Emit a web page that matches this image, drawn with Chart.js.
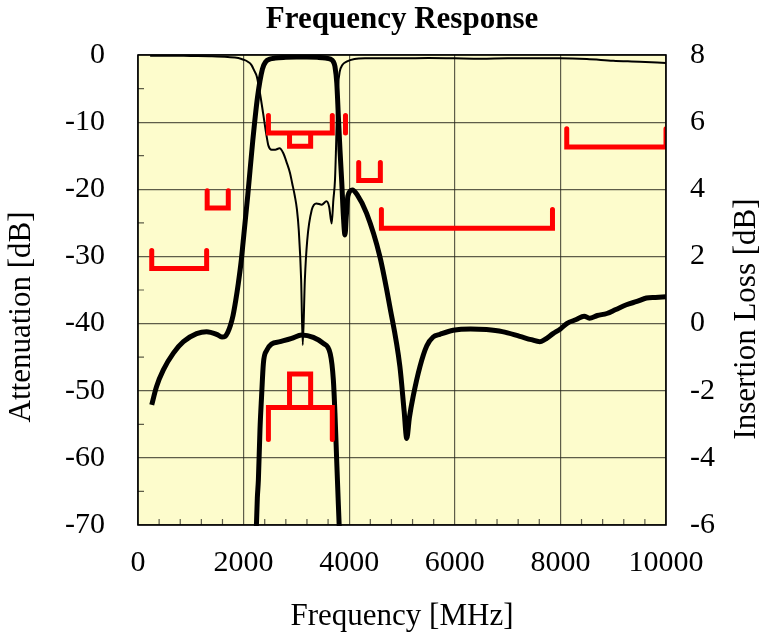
<!DOCTYPE html>
<html>
<head>
<meta charset="utf-8">
<script src="https://cdn.jsdelivr.net/npm/chart.js@4/dist/chart.umd.min.js"></script>
<style>
  html, body { margin: 0; padding: 0; background: #ffffff; }
  canvas { display: block; }
</style>
</head>
<body>
<canvas id="c" width="762" height="635"></canvas>
<script>
// ---------- data ----------
const chartTitle = 'Frequency Response';
const xTitle = 'Frequency [MHz]';
const yLeftTitle = 'Attenuation [dB]';
const yRightTitle = 'Insertion Loss [dB]';

const xTickValues = [0, 2000, 4000, 6000, 8000, 10000];
const attTickValues = [0, -10, -20, -30, -40, -50, -60, -70];
const ilTickValues = [8, 6, 4, 2, 0, -2, -4, -6];

// Attenuation (thick, left axis)
const attFreq = [260, 350, 480, 670, 860, 1110, 1300, 1490, 1590, 1650, 1700, 1750, 1800, 1850, 1900, 1950, 1989, 2080,
  2172, 2263, 2356, 2420, 2500, 2600, 2800, 3000, 3200, 3400, 3550, 3640, 3700, 3730, 3765, 3795, 3825,
  3860, 3890, 3920, 3945, 3975, 4060, 4150, 4330, 4580, 4770, 4960, 5040, 5090, 5140, 5210, 5340, 5470, 5590,
  5720, 5970, 6300, 6600, 6900, 7230, 7450, 7610, 7700, 7860, 8000, 8120, 8300, 8450, 8550, 8700, 8880, 9050,
  9250, 9450, 9630, 9800, 10000];
const attDb = [-52.1, -49.4, -46.9, -44.4, -42.7, -41.5, -41.2, -41.6, -42.0, -41.9, -41.3, -40.3, -38.8, -36.6,
  -34.0, -31.0, -28.0, -20.8, -12.9, -6.3, -2.1, -1.0, -0.6, -0.45, -0.35, -0.3, -0.3, -0.35, -0.45, -0.6, -1.0,
  -1.7, -4.2, -9.2, -14.1, -19.1, -24.0, -26.8, -24.0, -21.0, -20.1, -20.8, -23.6, -30.0, -37.5, -46.4, -53.0,
  -57.1, -54.0, -50.9, -46.4, -43.3, -42.0, -41.6, -41.0, -40.8, -40.9, -41.2, -41.9, -42.4, -42.7, -42.4, -41.5,
  -40.8, -40.0, -39.4, -38.9, -39.2, -38.8, -38.5, -37.9, -37.2, -36.7, -36.2, -36.1, -36.0];

// Return loss (thin, left axis)
const rlFreq = [230, 600, 1000, 1400, 1700, 1900, 2000, 2080, 2150, 2200, 2250, 2310, 2370, 2430, 2470, 2530,
  2600, 2680, 2750, 2820, 2880, 2920, 2970, 3010, 3045, 3090, 3120, 3160, 3205, 3290, 3380, 3480, 3570, 3620,
  3668, 3700, 3731, 3750, 3770, 3790, 3820, 3870, 3950, 4100, 4300, 5000, 5500, 6000, 6500, 7000, 7500, 8000,
  8500, 9000, 9500, 10000];
const rlDb = [-0.1, -0.1, -0.15, -0.2, -0.3, -0.45, -0.7, -1.0, -1.5, -2.3, -3.2, -5.7, -8.7, -11.8, -13.5, -14.1,
  -14.1, -13.9, -14.6, -16.1, -17.6, -19.1, -21.0, -23.0, -26.1, -33.5, -43.2, -33.5, -27.6, -23.1, -22.1, -22.3,
  -21.8, -22.6, -25.1, -21.6, -18.6, -14.0, -8.0, -4.5, -2.5, -1.5, -1.0, -0.6, -0.5, -0.5, -0.45, -0.5, -0.55,
  -0.5, -0.5, -0.5, -0.6, -0.85, -1.0, -1.2];

// Insertion loss (thick, right axis)
const ilFreq = [2235, 2260, 2280, 2310, 2340, 2375, 2440, 2530, 2690, 2910, 3100, 3320, 3510, 3640, 3700, 3730,
  3765, 3795, 3820];
const ilDb = [-6.4, -5.2, -4.66, -3.17, -2.18, -1.18, -0.79, -0.61, -0.54, -0.44, -0.34, -0.41, -0.59, -0.89,
  -1.68, -2.67, -4.16, -5.4, -6.4];

// Specification masks (red); null separates pieces
const maskAttFreq = [260, 260, 1300, 1300, null, 1310, 1310, 1710, 1710, null,
  2470, 2470, 3680, 3680, null, 2870, 2870, 3270, 3270, null, 3930, 3930, null,
  4180, 4180, 4590, 4590, null, 4610, 4610, 7850, 7850, null, 8120, 8120, 10000, 10000];
const maskAttDb = [-29.1, -31.8, -31.8, -29.1, null, -20.2, -22.8, -22.8, -20.2, null,
  -9.0, -11.6, -11.6, -9.0, null, -11.6, -13.6, -13.6, -11.6, null, -9.0, -11.6, null,
  -16.0, -18.7, -18.7, -16.0, null, -23.0, -25.8, -25.8, -23.0, null, -11.0, -13.7, -13.7, -11.0];

const maskIlFreq = [2470, 2470, 3680, 3680, null, 2870, 2870, 3270, 3270];
const maskIlDb = [-3.45, -2.5, -2.5, -3.45, null, -2.5, -1.5, -1.5, -2.5];

// ---------- build ----------
function pts(xs, ys) {
  return xs.map((x, i) => ({ x: x === null ? NaN : x, y: ys[i] }));
}

const SERIF = "'Liberation Serif', 'Times New Roman', serif";
const GRID = 'rgba(40,40,30,0.75)';

const bgPlugin = {
  id: 'bg',
  beforeDraw(chart) {
    const { ctx, chartArea: a } = chart;
    ctx.save();
    ctx.fillStyle = '#FDFCCC';
    ctx.fillRect(a.left, a.top, a.right - a.left, a.bottom - a.top);
    ctx.restore();
  },
  beforeDatasetsDraw(chart) {
    const { ctx, chartArea: a, scales } = chart;
    ctx.save();
    ctx.strokeStyle = GRID;
    ctx.lineWidth = 1.2;
    ctx.beginPath();
    for (let v = 0; v <= 10000; v += 400) {
      if (v % 2000 === 0) continue;
      const px = scales.x.getPixelForValue(v);
      ctx.moveTo(px, a.bottom);
      ctx.lineTo(px, a.bottom - 6);
    }
    for (let v = -65; v < 0; v += 10) {
      const py = scales.y.getPixelForValue(v);
      ctx.moveTo(a.left, py);
      ctx.lineTo(a.left + 6, py);
    }
    ctx.stroke();
    ctx.restore();
  },
  afterDatasetsDraw(chart) {
    const { ctx, chartArea: a } = chart;
    ctx.save();
    ctx.strokeStyle = '#000';
    ctx.lineWidth = 1.6;
    ctx.strokeRect(a.left, a.top, a.right - a.left, a.bottom - a.top);
    ctx.restore();
  },
  afterDraw(chart) {
    const { ctx } = chart;
    ctx.save();
    ctx.fillStyle = '#000';
    ctx.font = '31px ' + SERIF;
    ctx.textAlign = 'center';
    ctx.textBaseline = 'middle';
    ctx.translate(22, 317);
    ctx.rotate(-Math.PI / 2);
    ctx.fillText(yLeftTitle, 0, 0);
    ctx.restore();
    ctx.save();
    ctx.fillStyle = '#000';
    ctx.font = '31px ' + SERIF;
    ctx.textAlign = 'center';
    ctx.textBaseline = 'middle';
    ctx.translate(747, 319);
    ctx.rotate(-Math.PI / 2);
    ctx.fillText(yRightTitle, 0, 0);
    ctx.restore();
  }
};

const lineBase = { pointRadius: 0, fill: false, tension: 0 };

new Chart(document.getElementById('c'), {
  type: 'line',
  data: {
    datasets: [
      Object.assign({}, lineBase, { label: 'Mask', data: pts(maskAttFreq, maskAttDb), yAxisID: 'y',
        borderColor: '#FF0000', borderWidth: 5, borderCapStyle: 'round', borderJoinStyle: 'miter', spanGaps: false }),
      Object.assign({}, lineBase, { label: 'IL mask', data: pts(maskIlFreq, maskIlDb), yAxisID: 'y2',
        borderColor: '#FF0000', borderWidth: 5, borderCapStyle: 'round', borderJoinStyle: 'miter', spanGaps: false }),
      Object.assign({}, lineBase, { label: 'Return loss', data: pts(rlFreq, rlDb), yAxisID: 'y',
        borderColor: '#000', borderWidth: 2, cubicInterpolationMode: 'monotone' }),
      Object.assign({}, lineBase, { label: 'Attenuation', data: pts(attFreq, attDb), yAxisID: 'y',
        borderColor: '#000', borderWidth: 5, cubicInterpolationMode: 'monotone', borderJoinStyle: 'round' }),
      Object.assign({}, lineBase, { label: 'Insertion loss', data: pts(ilFreq, ilDb), yAxisID: 'y2',
        borderColor: '#000', borderWidth: 5, cubicInterpolationMode: 'monotone', borderJoinStyle: 'round', clip: 1 })
    ]
  },
  options: {
    responsive: false,
    animation: false,
    devicePixelRatio: 1,
    layout: { padding: 0 },
    plugins: {
      legend: { display: false },
      tooltip: { enabled: false },
      title: {
        display: true, text: chartTitle, fullSize: false, color: '#000',
        font: { family: SERIF, size: 31, weight: 'bold', lineHeight: 1.2 },
        padding: { top: 1, bottom: 16.8 }
      }
    },
    scales: {
      x: {
        type: 'linear', min: 0, max: 10000,
        afterBuildTicks: s => { s.ticks = xTickValues.map(v => ({ value: v })); },
        ticks: { color: '#000', font: { family: SERIF, size: 30 }, padding: 20, maxRotation: 0, autoSkip: false,
          callback: v => String(v) },
        grid: { color: GRID, lineWidth: 1.2, drawTicks: false },
        border: { display: false },
        title: { display: true, text: xTitle, color: '#000', font: { family: SERIF, size: 31 }, padding: { top: 0, bottom: 0 } },
        afterFit: s => { s.height = 110; }
      },
      y: {
        type: 'linear', position: 'left', min: -70, max: 0,
        afterBuildTicks: s => { s.ticks = attTickValues.slice().reverse().map(v => ({ value: v })); },
        ticks: { color: '#000', font: { family: SERIF, size: 30 }, padding: 33, callback: v => String(v) },
        grid: { color: GRID, lineWidth: 1.2, drawTicks: false },
        border: { display: false },
        afterFit: s => { s.width = 138; }
      },
      y2: {
        type: 'linear', position: 'right', min: -6, max: 8,
        afterBuildTicks: s => { s.ticks = ilTickValues.slice().reverse().map(v => ({ value: v })); },
        ticks: { color: '#000', font: { family: SERIF, size: 30 }, padding: 24, callback: v => String(v) },
        grid: { display: false, drawTicks: false },
        border: { display: false },
        afterFit: s => { s.width = 96; }
      }
    }
  },
  plugins: [bgPlugin]
});
</script>
</body>
</html>
